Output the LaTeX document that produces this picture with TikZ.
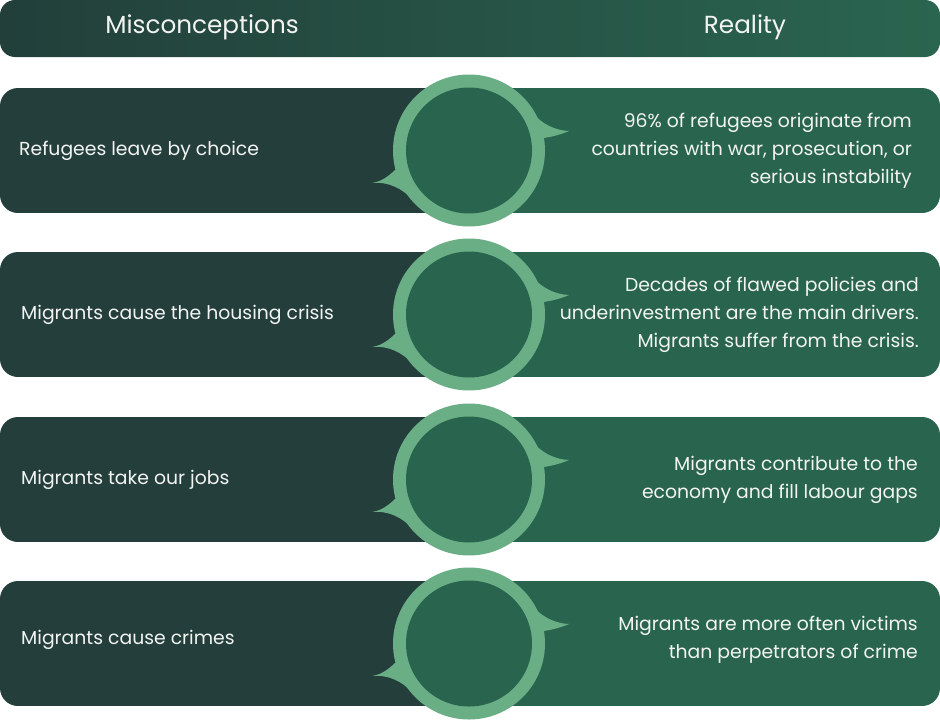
\documentclass[tikz,border=0pt]{standalone}
\usepackage{fontspec}
\setmainfont{Poppins}
\definecolor{darkc}{HTML}{243E3C}
\definecolor{grnc}{HTML}{29654E}
\definecolor{ringc}{HTML}{6AAE86}
\definecolor{hdl}{HTML}{223F3A}
\definecolor{hdr}{HTML}{2A6550}
\definecolor{txtc}{HTML}{F2F4F2}
\tikzset{
  lefttext/.style={text=txtc, inner sep=0pt, anchor=west, font=\fontsize{18.8}{28}\selectfont},
  righttext/.style={text=txtc, inner sep=0pt, anchor=east, align=right, font=\fontsize{18.8}{28}\selectfont},
  headtext/.style={text=txtc, inner sep=0pt, font=\fontsize{24.7}{28}\selectfont},
}
\begin{document}
\begin{tikzpicture}[x=1pt,y=-1pt]
\useasboundingbox (0,0) rectangle (940,720);
% header
\shade[left color=hdl, right color=hdr, rounded corners=15] (0,0) rectangle (940,57);
\node[headtext] (hm) at (202,27) {Misconceptions};
\node[headtext] (hr) at (745,27) {Reality};
% rows
\foreach \yc in {150.5,314.5,479.5,643.5}{
  \begin{scope}
    \clip[rounded corners=18] (0,\yc-62.5) rectangle (940,\yc+62.5);
    \fill[darkc] (0,\yc-62.5) rectangle (469,\yc+62.5);
    \fill[grnc] (469,\yc-62.5) rectangle (940,\yc+62.5);
  \end{scope}
  \begin{scope}[shift={(469,\yc)}]
    \fill[ringc] (0,0) circle[radius=76];
    \fill[ringc] (-74,19.5) .. controls (-82,27) and (-88,31) .. (-97,32.5)
      .. controls (-80,31) and (-67,38) .. (-56,49.5) -- (0,0) -- cycle;
    \fill[ringc] (64,-37.5) .. controls (72,-27) and (86,-20) .. (100,-19.5)
      .. controls (92,-16) and (84,-14) .. (75,-12.5) -- (0,0) -- cycle;
    \fill[grnc] (0,0) circle[radius=63];
  \end{scope}
}
% texts
\node[lefttext] (m1) at (19,150.5) {Refugees leave by choice};
\node[righttext] (r1) at (912,150.5) {96\% of refugees originate from\\countries with war, prosecution, or\\serious instability};
\node[lefttext] (m2) at (21,314.5) {Migrants cause the housing crisis};
\node[righttext] (r2) at (919,314.5) {Decades of flawed policies and\\underinvestment are the main drivers.\\Migrants suffer from the crisis.};
\node[lefttext] (m3) at (21,479.5) {Migrants take our jobs};
\node[righttext] (r3) at (918,479.5) {Migrants contribute to the\\economy and fill labour gaps};
\node[lefttext] (m4) at (21,640) {Migrants cause crimes};
\node[righttext] (r4) at (918,640) {Migrants are more often victims\\than perpetrators of crime};
\end{tikzpicture}
\end{document}
